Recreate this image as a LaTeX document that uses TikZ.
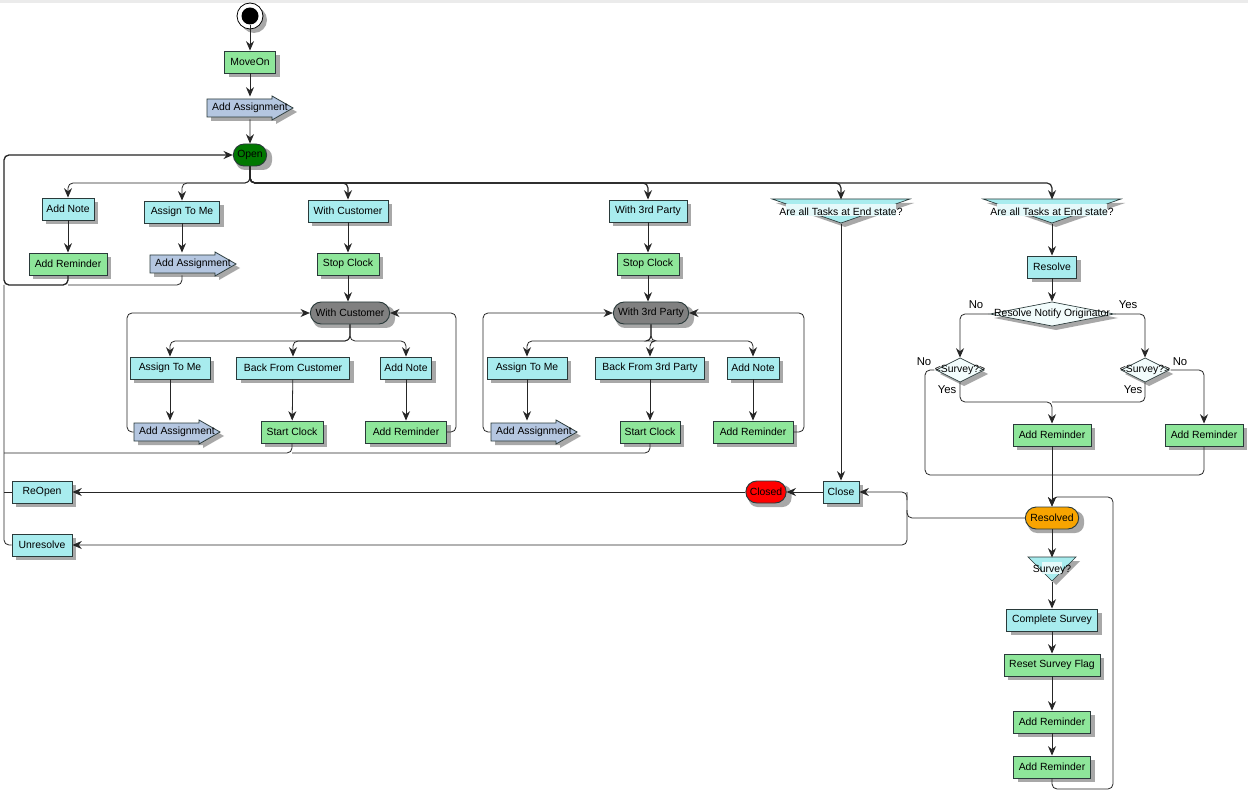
\documentclass[tikz,border=0pt]{standalone}
\usepackage{fontspec}
\setmainfont{Liberation Sans}
\usetikzlibrary{shapes.misc,arrows.meta,calc}
\definecolor{cy}{HTML}{A8ECEE}
\definecolor{gr}{HTML}{8EE69A}
\definecolor{asg}{HTML}{B4C6E0}
\definecolor{opn}{HTML}{007800}
\definecolor{orng}{HTML}{F8A400}
\definecolor{bd}{HTML}{2A3A3A}
\definecolor{sh}{HTML}{A8A8A8}
\def\u{0.75pt}
\tikzset{
  box/.style={draw=bd, line width=0.7pt, minimum height=22*\u, inner sep=1pt, font=\fontsize{7.8}{9}\selectfont},
  act/.style={box, fill=cy},
  gact/.style={box, fill=gr},
  st/.style={box, rounded rectangle, rounded rectangle arc length=180},
  lbl/.style={font=\fontsize{8.5}{10}\selectfont},
  ln/.style={draw=black!85, line width=0.6pt, rounded corners=5*\u},
  arr/.style={ln, -{Stealth[length=7pt,width=6pt]}},
  shd/.style={fill=sh}
}
\newcommand\addasg[2]{%
  \begin{scope}[shift={(#2)}]
  \fill[sh] (-39,-5) -- (26,-5) -- (26,-8) -- (47,4) -- (26,16) -- (26,13) -- (-39,13) -- cycle;
  \draw[draw=bd,line width=0.6pt,fill=asg] (-43,-9) -- (22,-9) -- (22,-12) -- (43,0) -- (22,12) -- (22,9) -- (-43,9) -- cycle;
  \end{scope}
  \node[box,draw=none,minimum width=86*\u,inner sep=0] (#1) at (#2) {Add Assignment};}
\newcommand\merge[4]{%
  \begin{scope}[shift={(#2)}]
  \fill[sh] (-#3+4,-9) -- (#3+4,-9) -- (4,15) -- cycle;
  \draw[draw=bd,line width=0.5pt,fill=cy] (-#3,-13) -- (#3,-13) -- (0,11) -- cycle;
  \fill[white!70!cy] (-#3+14,-8) rectangle (#3-14,4);
  \end{scope}
  \node[box,draw=none,minimum width=2*#3*\u,minimum height=24*\u,inner sep=0] (#1) at (#2) {#4};}
\newcommand\dec[4]{%
  \begin{scope}[shift={(#2)}]
  \fill[sh] (-#3+4,4) -- (4,-8) -- (#3+4,4) -- (4,16) -- cycle;
  \draw[draw=bd,line width=0.5pt,fill=white!85!cy] (-#3,0) -- (0,-12) -- (#3,0) -- (0,12) -- cycle;
  \end{scope}
  \node[box,draw=none,minimum width=2*#3*\u,minimum height=24*\u,inner sep=0] (#1) at (#2) {#4};}
\newcommand\bx[5]{%
  \fill[sh] ($(#2)+(-#3/2+4,-7)$) rectangle ($(#2)+(#3/2+4,15)$);
  \node[#4, minimum width=#3*\u] (#1) at (#2) {#5};}
\newcommand\stt[5]{%
  \fill[sh,rounded corners=9*\u] ($(#2)+(-#3/2+4,-7)$) rectangle ($(#2)+(#3/2+4,15)$);
  \node[st, fill=#4, minimum width=#3*\u] (#1) at (#2) {#5};}
\begin{document}
\begin{tikzpicture}[x=0.75pt,y=-0.75pt]
\useasboundingbox (0,0) rectangle (1248,791);
\fill[white] (0,0) rectangle (1248,791);
\fill[black!8] (0,0) rectangle (1248,3);
\fill[sh] (254,20) circle (13);
\draw[fill=white,line width=0.6pt] (250,16) circle (13);
\fill (250,16) circle (8.5);
\coordinate (start) at (250,25);
\bx{moveon}{250,62}{51}{gact}{MoveOn}
\addasg{asg0}{250,108}
\stt{open}{250,155}{36}{opn}{Open}
\bx{note1}{68,209}{52}{act}{Add Note}
\bx{rem1}{68,264}{78}{gact}{Add Reminder}
\bx{atm1}{182,212}{75}{act}{Assign To Me}
\addasg{asg1}{193,264}
\bx{wc}{348,211}{80}{act}{With Customer}
\bx{sc1}{348,264}{62}{gact}{Stop Clock}
\stt{wcs}{350,313}{82}{black!50}{With Customer}
\bx{atm2}{170,368}{80}{act}{Assign To Me}
\bx{bfc}{293,368}{113}{act}{Back From Customer}
\bx{note2}{406,368}{51}{act}{Add Note}
\addasg{asg2}{177,432}
\bx{stc1}{292,432}{62}{gact}{Start Clock}
\bx{rem2}{406,432}{81}{gact}{Add Reminder}
\bx{wt}{648,211}{78}{act}{With 3rd Party}
\bx{sc2}{648,264}{62}{gact}{Stop Clock}
\stt{wts}{651,313}{78}{black!50}{With 3rd Party}
\bx{atm3}{527,368}{80}{act}{Assign To Me}
\bx{bft}{650,368}{109}{act}{Back From 3rd Party}
\bx{note3}{753,368}{52}{act}{Add Note}
\addasg{asg3}{534,432}
\bx{stc2}{650,432}{60}{gact}{Start Clock}
\bx{rem3}{753,432}{80}{gact}{Add Reminder}
\merge{t1}{841,212}{69}{Are all Tasks at End state?}
\bx{close}{841,492}{36}{act}{Close}
\stt{closed}{766,492}{43}{red}{Closed}
\bx{reopen}{42,492}{60}{act}{ReOpen}
\bx{unres}{42,545}{60}{act}{Unresolve}
\merge{t2}{1052,212}{69}{Are all Tasks at End state?}
\bx{resolve}{1052,267}{49}{act}{Resolve}
\dec{rno}{1052,314}{62}{Resolve Notify Originator}
\dec{sv1}{960,370}{24}{<Survey?>}
\dec{sv2}{1145,370}{24}{<Survey?>}
\bx{rem4}{1052,435}{78}{gact}{Add Reminder}
\bx{rem5}{1204,435}{78}{gact}{Add Reminder}
\stt{resolved}{1052,518}{56}{orng}{Resolved}
\merge{sv}{1052,570}{24}{Survey?}
\bx{cs}{1052,620}{91}{act}{Complete Survey}
\bx{rsf}{1052,665}{96}{gact}{Reset Survey Flag}
\bx{rem6}{1052,722}{77}{gact}{Add Reminder}
\bx{rem7}{1052,767}{77}{gact}{Add Reminder}
% connectors
\draw[arr] (start) -- (moveon);
\draw[arr] (moveon) -- (asg0.north);
\draw[arr] (asg0.south) -- (open);
\foreach \t in {note1,atm1}{\draw[arr] (open.south) -- (250,183) -| (\t.north);}
\foreach \t in {wc,wt,t1,t2}{\draw[arr,line width=0.9pt] (open.south) -- (250,183) -| (\t.north);}
\draw[arr] (note1) -- (rem1);
\draw[arr] (atm1.south) -- (atm1.south |- asg1.north);
\draw[arr,line width=1pt] (rem1.south) -- (68,285) -- (4,285) -- (4,155) -- (open.west);
\draw[ln] (asg1.south -| atm1.south) -- (182,285) -- (68,285);
\draw[ln] (unres.west) -- (4,545) -- (4,285);
\draw[ln] (reopen.west) -- (4,492);
\draw[arr] (wc) -- (sc1);
\draw[arr] (sc1.south) -- (sc1.south |- wcs.north);
\foreach \t in {atm2,bfc,note2}{\draw[arr] (wcs.south) -- (350,341) -| (\t.north);}
\draw[arr] (atm2.south) -- (atm2.south |- asg2.north);
\draw[arr] (bfc) -- (stc1);
\draw[arr] (note2) -- (rem2);
\draw[arr] (asg2.west) -- (127,432) -- (127,313) -- (wcs.west);
\draw[arr] (rem2.east) -- (456,432) -- (456,313) -- (wcs.east);
\draw[ln] (stc1.south) -- (292,453) -- (4,453);
\draw[arr] (wt) -- (sc2);
\draw[arr] (sc2.south) -- (sc2.south |- wts.north);
\foreach \t in {atm3,bft,note3}{\draw[arr] (wts.south) -- (651,341) -| (\t.north);}
\draw[arr] (atm3.south) -- (atm3.south |- asg3.north);
\draw[arr] (bft) -- (stc2);
\draw[arr] (note3) -- (rem3);
\draw[arr] (asg3.west) -- (483,432) -- (483,313) -- (wts.west);
\draw[arr] (rem3.east) -- (804,432) -- (804,313) -- (wts.east);
\draw[ln] (stc2.south) -- (650,453) -- (292,453);
\draw[arr] (t1.south) -- (close.north);
\draw[arr] (close.west) -- (closed.east);
\draw[arr] (closed.west) -- (reopen.east);
\draw[arr] (t2.south) -- (resolve.north);
\draw[arr] (resolve.south) -- (rno.north);
\draw[arr] (rno.west) -- (960,314) -- (sv1.north);
\draw[arr] (rno.east) -- (1145,314) -- (sv2.north);
\draw[arr] (sv1.south) -- (960,402) -- (1052,402) -- (rem4.north);
\draw[ln] (sv2.south) -- (1145,402) -- (1052,402);
\draw[ln] (sv1.west) -- (925,370) -- (925,475) -- (1052,475);
\draw[arr] (sv2.east) -- (1204,370) -- (rem5.north);
\draw[ln] (rem5.south) -- (1204,475) -- (1052,475);
\draw[arr] (rem4.south) -- (resolved.north);
\draw[ln] (resolved.west) -- (907,518) -- (907,492);
\draw[arr] (907,500) -- (907,492) -- (close.east);
\draw[arr] (907,510) -- (907,545) -- (unres.east);
\draw[arr] (resolved.south) -- (sv.north);
\draw[arr] (sv.south) -- (cs.north);
\draw[arr] (cs) -- (rsf);
\draw[arr] (rsf) -- (rem6);
\draw[arr] (rem6) -- (rem7);
\draw[arr] (rem7.south) -- (1052,789) -- (1113,789) -- (1113,497) -- (1052,497) -- (resolved.north);
\node[lbl] at (976,305) {No};
\node[lbl] at (1128,305) {Yes};
\node[lbl] at (924,362) {No};
\node[lbl] at (947,390) {Yes};
\node[lbl] at (1133,390) {Yes};
\node[lbl] at (1180,362) {No};
\end{tikzpicture}
\end{document}
